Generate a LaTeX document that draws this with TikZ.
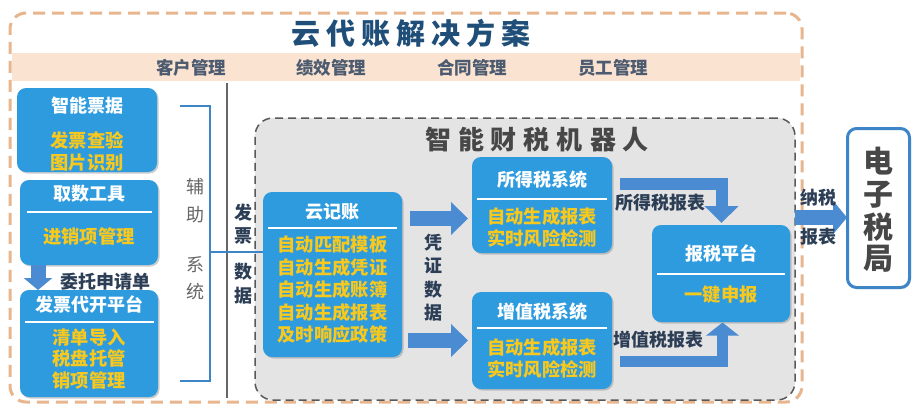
\documentclass[tikz,border=0pt]{standalone}
\usepackage{fontspec}
\setmainfont{Noto Sans CJK SC}
\usetikzlibrary{shadows,arrows.meta}
\definecolor{bxblue}{HTML}{2E9BDF}
\definecolor{arblue}{HTML}{4A8BD1}
\definecolor{ylw}{HTML}{F7C81E}
\definecolor{navy}{HTML}{1F4E79}
\definecolor{dtxt}{HTML}{2C3E56}
\definecolor{peach}{HTML}{FBE3D2}
\definecolor{orng}{HTML}{E7B68E}
\definecolor{gbg}{HTML}{E4E4E4}
\definecolor{brk}{HTML}{3D85C6}
\tikzset{
  bx/.style={rounded corners=9pt, fill=bxblue, draw=none, inner sep=0,
    drop shadow={opacity=0.4, shadow xshift=1.5pt, shadow yshift=-1.5pt}},
  ttl/.style={text=white, font=\bfseries\fontsize{18}{20}\selectfont, inner sep=0},
  yl/.style={text=ylw, font=\bfseries\fontsize{18.3}{22.5}\selectfont, align=center, inner sep=0},
  lbl/.style={text=dtxt, font=\bfseries\fontsize{18}{20}\selectfont, inner sep=0},
  band/.style={text=dtxt!85, font=\bfseries\fontsize{17.5}{19}\selectfont, inner sep=0},
  sep/.style={white, line width=2.5pt},
  barrow/.style={arblue, line join=miter},
}
\begin{document}
\begin{tikzpicture}[x=1pt,y=-1pt]
\useasboundingbox[fill=white] (0,0) rectangle (920,413);
% outer dashed frame
\node[draw=orng, line width=3pt, dash pattern=on 12pt off 7pt, rounded corners=16pt,
  minimum width=792, minimum height=389, inner sep=0] (outer) at (406,207.5) {};
% band
\fill[peach] (12,53) rectangle (800,81);
\node[text=navy, font=\bfseries\fontsize{29}{32}\selectfont, inner sep=0] (title) at (411,33)
  {云\hspace{6pt}代\hspace{6pt}账\hspace{6pt}解\hspace{6pt}决\hspace{6pt}方\hspace{6pt}案};
\node[band] (b1) at (191,68) {客户管理};
\node[band] (b2) at (331,68) {绩效管理};
\node[band] (b3) at (472,68) {合同管理};
\node[band] (b4) at (613,68) {员工管理};
% gray robot area
\node[draw=black!65, fill=gbg, line width=1.5pt, dash pattern=on 8pt off 5pt, rounded corners=18pt,
  minimum width=540, minimum height=282, inner sep=0] (robot) at (525,259) {};
\node[text=black!72, font=\bfseries\fontsize{26}{28}\selectfont, inner sep=0] (rtitle) at (537,140)
  {智\hspace{7pt}能\hspace{7pt}财\hspace{7pt}税\hspace{7pt}机\hspace{7pt}器\hspace{7pt}人};
% vertical gray line
\coordinate (gl1) at (227,83);
\coordinate (gl2) at (227,398);
\draw[black!60, line width=1.5pt] (gl1) -- (gl2);
% left boxes
\node[bx, minimum width=140, minimum height=84] (zn) at (87,130) {};
\node[ttl] (znt) at (87,106) {智能票据};
\node[yl] (zny) at (87,151.5) {发票查验\\图片识别};
\node[bx, minimum width=138, minimum height=85] (qs) at (89,222.5) {};
\node[ttl] (qst) at (89,194) {取数工具};
\draw[sep] (27,212) -- (152,212);
\node[yl] (qsy) at (89,236) {进销项管理};
\coordinate (da1) at (38,265);
\coordinate (da2) at (38,290);
\draw[barrow, line width=15pt, -{Triangle[width=28pt,length=12pt]}] (da1) -- (da2);
\node[lbl] (wt) at (105,282) {委托申请单};
\node[bx, minimum width=138, minimum height=107] (fp) at (89,343.5) {};
\node[ttl] (fpt) at (89,304) {发票代开平台};
\draw[sep] (25,322) -- (154,322);
\node[yl, font=\bfseries\fontsize{18.3}{21.8}\selectfont] (fpy) at (89,359) {清单导入\\税盘托管\\销项管理};
% bracket
\coordinate (k1) at (180,106);
\coordinate (k2) at (180,381);
\coordinate (k3) at (210,252);
\draw[brk, line width=2.5pt] (k1) -| (k3) |- (k2);
\node[text=black!60, font=\fontsize{18}{20}\selectfont, inner sep=0] (fz1) at (195,187) {辅};
\node[text=black!60, font=\fontsize{18}{20}\selectfont, inner sep=0] (fz2) at (195,215) {助};
\node[text=black!60, font=\fontsize{18}{20}\selectfont, inner sep=0] (fz3) at (195,265) {系};
\node[text=black!60, font=\fontsize{18}{20}\selectfont, inner sep=0] (fz4) at (195,292) {统};
\node[lbl] (fs1) at (243,213) {发};
\node[lbl] (fs2) at (243,236) {票};
\node[lbl] (fs3) at (243,272) {数};
\node[lbl] (fs4) at (243,296) {据};
% yunjizhang
\node[bx, minimum width=139, minimum height=165] (yjz) at (332.5,274.5) {};
\draw[brk, line width=2.5pt] (k3) -- (yjz.west |- k3);
\node[ttl] (yjzt) at (332.5,212) {云记账};
\draw[sep] (268,228) -- (397,228);
\node[yl] (yjzy) at (332.5,290) {自动匹配模板\\自动生成凭证\\自动生成账簿\\自动生成报表\\及时响应政策};
% arrows to tax systems
\coordinate (a1s) at (410,218.5);
\coordinate (a1e) at (468,218.5);
\coordinate (a2s) at (408,340.5);
\coordinate (a2e) at (468,340.5);
\draw[barrow, line width=15pt, -{Triangle[width=32pt,length=17pt]}] (a1s) -- (a1e);
\draw[barrow, line width=15pt, -{Triangle[width=32pt,length=17pt]}] (a2s) -- (a2e);
\node[lbl] (pz1) at (433,243) {凭};
\node[lbl] (pz2) at (433,266) {证};
\node[lbl] (pz3) at (433,290) {数};
\node[lbl] (pz4) at (433,313) {据};
% income tax
\node[bx, minimum width=140, minimum height=96] (sd) at (542,205) {};
\node[ttl] (sdt) at (542,180) {所得税系统};
\draw[sep] (477,199) -- (607,199);
\node[yl] (sdy) at (542,227.5) {自动生成报表\\实时风险检测};
% VAT
\node[bx, minimum width=140, minimum height=97] (zz) at (542,340.5) {};
\node[ttl] (zzt) at (542,312) {增值税系统};
\draw[sep] (477,328) -- (607,328);
\node[yl] (zzy) at (542,358.5) {自动生成报表\\实时风险检测};
% tax platform
\node[bx, minimum width=138, minimum height=97] (bs) at (721,273.5) {};
\node[ttl] (bst) at (721,253) {报税平台};
\draw[sep] (657,274) -- (785,274);
\node[yl] (bsy) at (721,295) {一键申报};
% bent arrows
\coordinate (u1) at (620,184);
\coordinate (u2) at (721.5,223);
\draw[barrow, line width=12pt, -{Triangle[width=33pt,length=17pt]}] (u1) -| (u2);
\node[lbl] (sdb) at (660,203) {所得税报表};
\coordinate (l1) at (620,361.5);
\coordinate (l2) at (722.5,322.5);
\draw[barrow, line width=11pt, -{Triangle[width=32pt,length=13pt]}] (l1) -| (l2);
\node[lbl] (zzb) at (658,340) {增值税报表};
% to tax bureau
\coordinate (r1) at (795,217.5);
\draw[barrow, line width=15pt, -{Triangle[width=33pt,length=14pt]}] (r1) -- (r1 -| 847,0);
\node[lbl] (ns1) at (818,198) {纳税};
\node[lbl] (ns2) at (818,237) {报表};
\node[draw=brk, line width=3pt, fill=white, rounded corners=9pt, minimum width=62, minimum height=159,
  inner sep=0, drop shadow={opacity=0.25, shadow xshift=1.5pt, shadow yshift=-1.5pt}] (dz) at (878.5,208) {};
\node[text=black!72, font=\bfseries\fontsize{30}{32}\selectfont, inner sep=0] (dz1) at (878.5,161) {电};
\node[text=black!72, font=\bfseries\fontsize{30}{32}\selectfont, inner sep=0] (dz2) at (878.5,195) {子};
\node[text=black!72, font=\bfseries\fontsize{30}{32}\selectfont, inner sep=0] (dz3) at (878.5,227) {税};
\node[text=black!72, font=\bfseries\fontsize{30}{32}\selectfont, inner sep=0] (dz4) at (878.5,259) {局};
\end{tikzpicture}
\end{document}
